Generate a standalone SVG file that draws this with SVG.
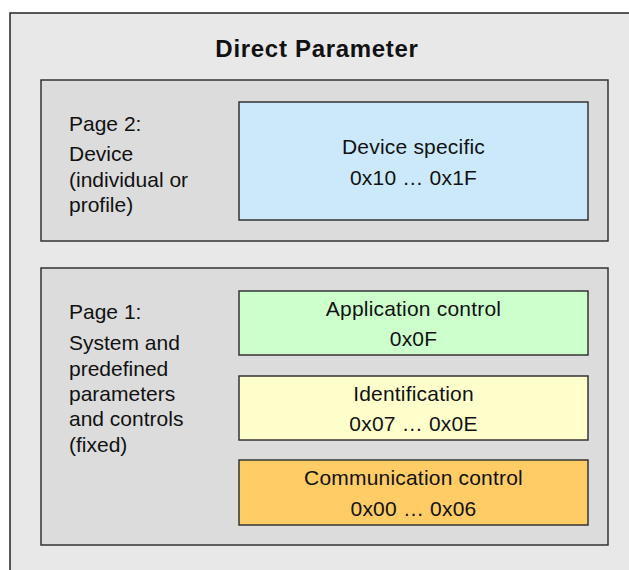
<svg xmlns="http://www.w3.org/2000/svg" width="629" height="570" viewBox="0 0 629 570">
<style>
text{font-family:"Liberation Sans",Arial,sans-serif;font-size:21px;fill:#111}
.t{font-size:24px;font-weight:bold;text-anchor:middle;letter-spacing:0.7px}
.c{text-anchor:middle;letter-spacing:0.2px}
.page{fill:#dcdcdc;stroke:#333;stroke-width:1.5}
.box{stroke:#333;stroke-width:1.5}
</style>
<rect width="629" height="570" fill="#ffffff"/>
<g id="outer">
<rect x="10" y="13" width="640" height="600" fill="#e8e8e8" stroke="#222" stroke-width="1.5"/>
<text class="t" x="317" y="57">Direct Parameter</text>
</g>
<g id="page2">
<rect class="page" x="41" y="80" width="567" height="161"/>
<text x="69" y="130.5">Page 2:</text>
<text x="69" y="161">Device</text>
<text x="69" y="186.5">(individual or</text>
<text x="69" y="211.5">profile)</text>
</g>
<g id="device-specific">
<rect class="box" x="239" y="102" width="349" height="118" fill="#cce9fc"/>
<text class="c" x="413.5" y="154">Device specific</text>
<text class="c" x="413.5" y="184.5">0x10 … 0x1F</text>
</g>
<g id="page1">
<rect class="page" x="41" y="268" width="567" height="277"/>
<text x="69" y="319">Page 1:</text>
<text x="69" y="350">System and</text>
<text x="69" y="375.5">predefined</text>
<text x="69" y="400.5">parameters</text>
<text x="69" y="426">and controls</text>
<text x="69" y="451.5">(fixed)</text>
</g>
<g id="application-control">
<rect class="box" x="239" y="291" width="349" height="64" fill="#ccffcc"/>
<text class="c" x="413.5" y="316">Application control</text>
<text class="c" x="413.5" y="346">0x0F</text>
</g>
<g id="identification">
<rect class="box" x="239" y="376" width="349" height="64" fill="#ffffcc"/>
<text class="c" x="413.5" y="400.5">Identification</text>
<text class="c" x="413.5" y="431">0x07 … 0x0E</text>
</g>
<g id="communication-control">
<rect class="box" x="239" y="460" width="349" height="65" fill="#ffcc66"/>
<text class="c" x="413.5" y="485">Communication control</text>
<text class="c" x="413.5" y="515.5">0x00 … 0x06</text>
</g>
<g id="connectors"/>
</svg>
